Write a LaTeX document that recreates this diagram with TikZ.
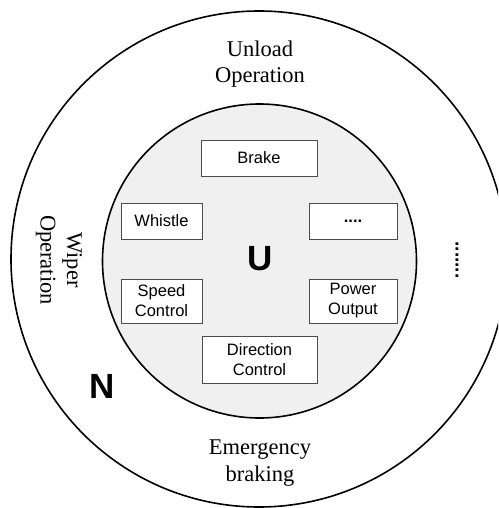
\documentclass[tikz,border=0pt]{standalone}
\usepackage{fontspec}
\setmainfont{Liberation Serif}
\setsansfont{Liberation Sans}

\begin{document}
\begin{tikzpicture}[x=1pt, y=-1pt]
  \tikzstyle{every node}=[font=\sffamily\fontsize{16.5}{20}\selectfont]
  \tikzstyle{unit}=[draw=black!70, line width=0.9pt, fill=white, align=center, inner sep=0pt]
  \tikzstyle{ring}=[font=\rmfamily\fontsize{22.5}{26.5}\selectfont, align=center]
  \tikzstyle{letter}=[font=\sffamily\bfseries\fontsize{35}{35}\selectfont]
  \useasboundingbox (0, 0) rectangle (498, 508);
  \clip (0, 0) rectangle (498, 508);

  \draw[line width=1.6pt] (259, 259) circle (248pt);
  \draw[line width=1.6pt, fill=black!6] (259.5, 261) circle (157pt);

  \node[ring] (unload) at (260, 64) {Unload\\Operation};
  \node[ring] (emergency) at (260, 463) {Emergency\\braking};
  \node[ring, rotate=-90] (wiper) at (59, 260) {Wiper\\Operation};
  \node[font=\sffamily\bfseries\fontsize{19}{19}\selectfont, rotate=-90] (more) at (457, 260) {.......};

  \node[letter] (u) at (260, 259) {U};
  \node[letter] (n) at (102, 386) {N};

  \node[unit, minimum width=116, minimum height=36] (brake) at (259, 158) {Brake};
  \node[unit, minimum width=81, minimum height=36] (whistle) at (161.5, 221) {Whistle};
  \node[unit, minimum width=88, minimum height=36] (other) at (353, 221) {\textbf{....}};
  \node[unit, minimum width=81, minimum height=44] (speed) at (161.5, 301) {Speed\\Control};
  \node[unit, minimum width=88, minimum height=44] (power) at (353, 301) {Power\\Output};
  \node[unit, minimum width=115, minimum height=47] (direction) at (259.5, 359.5) {Direction\\Control};
\end{tikzpicture}
\end{document}
